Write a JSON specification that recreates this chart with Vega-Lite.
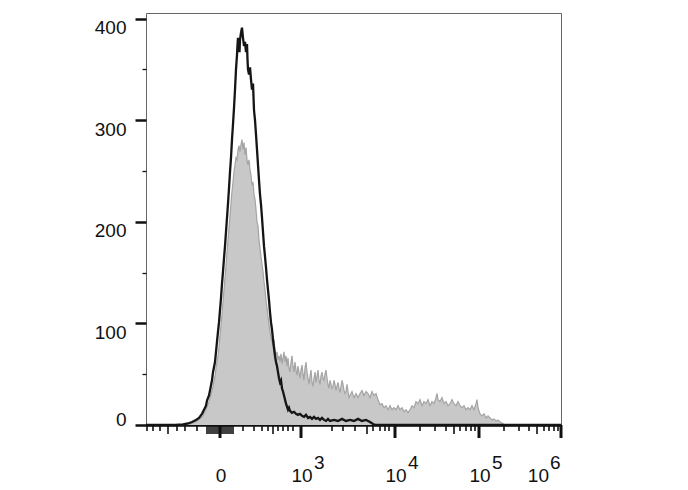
{
"$schema": "https://vega.github.io/schema/vega-lite/v6.json",
"width": 415, "height": 412,
"autosize": "none",
"padding": {"left": 146, "top": 13, "right": 127, "bottom": 65},
"background": "white",
"config": {"view": {"stroke": "#666666", "strokeWidth": 1}, "font": "Liberation Sans"},
"datasets": {
"gray": [
{"ch":0,"count":0},{"ch":68,"count":0},{"ch":84,"count":0.5},{"ch":94,"count":2},{"ch":102,"count":4},{"ch":108,"count":6},{"ch":114,"count":9},{"ch":118,"count":13},{"ch":122,"count":18},{"ch":126,"count":23},{"ch":130,"count":30},{"ch":134,"count":38},{"ch":138,"count":48},{"ch":140,"count":56},{"ch":144,"count":68},{"ch":146,"count":77},{"ch":148,"count":88},{"ch":150,"count":98},{"ch":152,"count":109},{"ch":154,"count":121},{"ch":156,"count":133},{"ch":158,"count":145},{"ch":160,"count":157},{"ch":162,"count":170},{"ch":164,"count":182},{"ch":166,"count":194},{"ch":168,"count":206},{"ch":170,"count":218},{"ch":172,"count":230},{"ch":174,"count":239},{"ch":176,"count":249},{"ch":178,"count":256},{"ch":180,"count":263},{"ch":182,"count":261},{"ch":184,"count":271},{"ch":186,"count":275},{"ch":188,"count":269},{"ch":190,"count":276},{"ch":192,"count":281},{"ch":194,"count":271},{"ch":196,"count":278},{"ch":198,"count":266},{"ch":200,"count":273},{"ch":202,"count":261},{"ch":204,"count":256},{"ch":206,"count":261},{"ch":208,"count":251},{"ch":210,"count":246},{"ch":212,"count":236},{"ch":214,"count":239},{"ch":216,"count":227},{"ch":218,"count":222},{"ch":220,"count":212},{"ch":222,"count":200},{"ch":224,"count":196},{"ch":226,"count":182},{"ch":228,"count":174},{"ch":230,"count":166},{"ch":232,"count":158},{"ch":234,"count":151},{"ch":236,"count":141},{"ch":238,"count":133},{"ch":240,"count":123},{"ch":242,"count":115},{"ch":244,"count":107},{"ch":246,"count":99},{"ch":248,"count":92},{"ch":250,"count":86},{"ch":252,"count":82},{"ch":254,"count":78},{"ch":256,"count":84},{"ch":258,"count":74},{"ch":260,"count":68},{"ch":262,"count":72},{"ch":264,"count":64},{"ch":266,"count":68},{"ch":268,"count":62},{"ch":270,"count":70},{"ch":272,"count":60},{"ch":274,"count":66},{"ch":276,"count":72},{"ch":278,"count":62},{"ch":280,"count":68},{"ch":282,"count":58},{"ch":284,"count":66},{"ch":286,"count":56},{"ch":288,"count":52},{"ch":290,"count":62},{"ch":292,"count":68},{"ch":294,"count":58},{"ch":296,"count":52},{"ch":298,"count":62},{"ch":300,"count":54},{"ch":302,"count":49},{"ch":304,"count":58},{"ch":306,"count":52},{"ch":308,"count":46},{"ch":310,"count":54},{"ch":312,"count":59},{"ch":314,"count":50},{"ch":316,"count":44},{"ch":318,"count":56},{"ch":320,"count":62},{"ch":322,"count":52},{"ch":324,"count":46},{"ch":326,"count":40},{"ch":328,"count":48},{"ch":330,"count":54},{"ch":332,"count":42},{"ch":334,"count":38},{"ch":336,"count":46},{"ch":338,"count":52},{"ch":340,"count":42},{"ch":342,"count":48},{"ch":344,"count":54},{"ch":346,"count":44},{"ch":348,"count":40},{"ch":350,"count":48},{"ch":352,"count":52},{"ch":354,"count":46},{"ch":356,"count":44},{"ch":358,"count":50},{"ch":360,"count":54},{"ch":362,"count":46},{"ch":364,"count":40},{"ch":366,"count":36},{"ch":368,"count":44},{"ch":370,"count":40},{"ch":372,"count":36},{"ch":374,"count":38},{"ch":376,"count":44},{"ch":378,"count":40},{"ch":380,"count":34},{"ch":382,"count":38},{"ch":384,"count":42},{"ch":386,"count":36},{"ch":388,"count":32},{"ch":390,"count":38},{"ch":392,"count":44},{"ch":394,"count":40},{"ch":396,"count":34},{"ch":398,"count":31},{"ch":400,"count":33},{"ch":402,"count":40},{"ch":404,"count":33},{"ch":406,"count":27},{"ch":408,"count":29},{"ch":412,"count":33},{"ch":416,"count":27},{"ch":420,"count":31},{"ch":424,"count":27},{"ch":428,"count":31},{"ch":432,"count":34},{"ch":436,"count":29},{"ch":440,"count":33},{"ch":444,"count":31},{"ch":448,"count":27},{"ch":452,"count":33},{"ch":456,"count":29},{"ch":460,"count":31},{"ch":464,"count":25},{"ch":468,"count":20},{"ch":472,"count":21},{"ch":476,"count":17},{"ch":480,"count":19},{"ch":484,"count":15},{"ch":488,"count":19},{"ch":492,"count":15},{"ch":496,"count":17},{"ch":500,"count":15},{"ch":504,"count":19},{"ch":508,"count":15},{"ch":512,"count":17},{"ch":516,"count":13},{"ch":520,"count":15},{"ch":524,"count":12},{"ch":528,"count":15},{"ch":532,"count":19},{"ch":536,"count":17},{"ch":540,"count":23},{"ch":544,"count":21},{"ch":548,"count":25},{"ch":552,"count":19},{"ch":556,"count":23},{"ch":560,"count":21},{"ch":564,"count":25},{"ch":568,"count":19},{"ch":572,"count":23},{"ch":576,"count":21},{"ch":580,"count":27},{"ch":582,"count":31},{"ch":584,"count":25},{"ch":588,"count":23},{"ch":592,"count":27},{"ch":596,"count":21},{"ch":600,"count":23},{"ch":604,"count":19},{"ch":608,"count":21},{"ch":612,"count":25},{"ch":616,"count":21},{"ch":620,"count":19},{"ch":624,"count":23},{"ch":628,"count":19},{"ch":632,"count":17},{"ch":636,"count":19},{"ch":640,"count":15},{"ch":644,"count":17},{"ch":648,"count":15},{"ch":652,"count":19},{"ch":656,"count":15},{"ch":660,"count":21},{"ch":662,"count":25},{"ch":664,"count":17},{"ch":668,"count":11},{"ch":672,"count":9},{"ch":676,"count":11},{"ch":680,"count":7},{"ch":684,"count":9},{"ch":688,"count":7},{"ch":692,"count":5},{"ch":696,"count":6},{"ch":700,"count":4},{"ch":704,"count":5},{"ch":708,"count":3},{"ch":712,"count":2},{"ch":716,"count":0.5},{"ch":720,"count":0},{"ch":830,"count":0}
],
"black": [
{"ch":0,"count":0},{"ch":28,"count":0},{"ch":58,"count":0},{"ch":74,"count":0.5},{"ch":84,"count":1.5},{"ch":92,"count":3},{"ch":100,"count":5},{"ch":106,"count":7},{"ch":112,"count":11},{"ch":116,"count":15},{"ch":120,"count":19},{"ch":122,"count":24},{"ch":126,"count":29},{"ch":128,"count":34},{"ch":132,"count":44},{"ch":134,"count":52},{"ch":138,"count":62},{"ch":140,"count":72},{"ch":142,"count":82},{"ch":144,"count":92},{"ch":146,"count":101},{"ch":148,"count":113},{"ch":150,"count":125},{"ch":152,"count":139},{"ch":154,"count":151},{"ch":156,"count":164},{"ch":158,"count":176},{"ch":160,"count":190},{"ch":162,"count":204},{"ch":164,"count":218},{"ch":166,"count":233},{"ch":168,"count":249},{"ch":170,"count":263},{"ch":172,"count":281},{"ch":174,"count":296},{"ch":176,"count":312},{"ch":178,"count":330},{"ch":180,"count":350},{"ch":182,"count":364},{"ch":183,"count":374},{"ch":184,"count":381},{"ch":186,"count":374},{"ch":187,"count":367},{"ch":188,"count":379},{"ch":190,"count":386},{"ch":192,"count":391},{"ch":194,"count":381},{"ch":196,"count":373},{"ch":198,"count":377},{"ch":200,"count":367},{"ch":202,"count":375},{"ch":203,"count":360},{"ch":204,"count":350},{"ch":206,"count":345},{"ch":208,"count":352},{"ch":210,"count":340},{"ch":212,"count":330},{"ch":214,"count":336},{"ch":216,"count":310},{"ch":218,"count":300},{"ch":220,"count":286},{"ch":222,"count":271},{"ch":224,"count":256},{"ch":226,"count":241},{"ch":228,"count":227},{"ch":230,"count":217},{"ch":232,"count":204},{"ch":234,"count":190},{"ch":236,"count":176},{"ch":238,"count":166},{"ch":240,"count":155},{"ch":242,"count":143},{"ch":244,"count":133},{"ch":246,"count":123},{"ch":248,"count":111},{"ch":250,"count":101},{"ch":252,"count":94},{"ch":254,"count":84},{"ch":256,"count":76},{"ch":258,"count":68},{"ch":260,"count":62},{"ch":262,"count":58},{"ch":264,"count":52},{"ch":266,"count":46},{"ch":268,"count":42},{"ch":270,"count":44},{"ch":272,"count":36},{"ch":274,"count":33},{"ch":276,"count":29},{"ch":278,"count":25},{"ch":280,"count":21},{"ch":282,"count":18},{"ch":284,"count":15},{"ch":286,"count":17},{"ch":288,"count":14},{"ch":292,"count":12},{"ch":296,"count":13},{"ch":300,"count":11},{"ch":304,"count":10},{"ch":308,"count":11},{"ch":312,"count":9},{"ch":316,"count":8},{"ch":320,"count":10},{"ch":324,"count":7},{"ch":328,"count":8},{"ch":332,"count":6},{"ch":336,"count":8},{"ch":340,"count":6},{"ch":344,"count":7},{"ch":348,"count":5},{"ch":352,"count":7},{"ch":356,"count":5},{"ch":360,"count":4},{"ch":364,"count":6},{"ch":368,"count":4},{"ch":376,"count":5},{"ch":384,"count":4},{"ch":392,"count":6},{"ch":400,"count":4},{"ch":408,"count":5},{"ch":416,"count":4},{"ch":424,"count":6},{"ch":432,"count":4},{"ch":440,"count":5},{"ch":448,"count":3},{"ch":454,"count":1},{"ch":460,"count":0},{"ch":830,"count":0}
],
"ticks": [
{"v":2,"k":"minor"},{"v":14,"k":"minor"},{"v":28,"k":"minor"},{"v":44,"k":"mid"},{"v":62,"k":"minor"},{"v":78,"k":"minor"},{"v":102,"k":"minor"},
{"v":122,"k":"mid"},{"v":126,"k":"mid"},{"v":130,"k":"mid"},{"v":134,"k":"mid"},{"v":138,"k":"mid"},{"v":142,"k":"mid"},{"v":146,"k":"mid"},{"v":148,"k":"major"},{"v":150,"k":"mid"},{"v":154,"k":"mid"},{"v":158,"k":"mid"},{"v":162,"k":"mid"},{"v":166,"k":"mid"},{"v":170,"k":"mid"},{"v":174,"k":"mid"},
{"v":194,"k":"minor"},{"v":216,"k":"minor"},{"v":232,"k":"minor"},{"v":244,"k":"minor"},{"v":254,"k":"mid"},{"v":264,"k":"minor"},{"v":274,"k":"minor"},{"v":284,"k":"minor"},{"v":294,"k":"minor"},{"v":310,"k":"major"},
{"v":372,"k":"minor"},{"v":394,"k":"minor"},{"v":418,"k":"minor"},{"v":442,"k":"mid"},{"v":454,"k":"minor"},{"v":468,"k":"minor"},{"v":478,"k":"minor"},{"v":486,"k":"minor"},{"v":498,"k":"major"},
{"v":548,"k":"minor"},{"v":578,"k":"minor"},{"v":600,"k":"minor"},{"v":616,"k":"mid"},{"v":628,"k":"minor"},{"v":640,"k":"minor"},{"v":650,"k":"minor"},{"v":658,"k":"minor"},{"v":666,"k":"major"},
{"v":716,"k":"minor"},{"v":746,"k":"minor"},{"v":766,"k":"minor"},{"v":782,"k":"mid"},{"v":796,"k":"minor"},{"v":806,"k":"minor"},{"v":816,"k":"minor"},{"v":824,"k":"minor"},{"v":830,"k":"major"}
],
"labels": [
{"v":148,"t":"0"},{"v":310,"t":"10"},{"v":498,"t":"10"},{"v":666,"t":"10"},{"v":830,"t":"10"}
],
"exps": [
{"v":310,"e":"3"},{"v":498,"e":"4"},{"v":666,"e":"5"},{"v":830,"e":"6"}
]
},
"layer": [
{
"data": {"name": "gray"},
"mark": {"type": "area", "color": "#c8c8c8", "opacity": 1, "line": {"color": "#a4a4a4", "strokeWidth": 1.2}},
"encoding": {
"x": {"field": "ch", "type": "quantitative",
 "scale": {"domain": [0, 830], "nice": false, "zero": false},
 "axis": {"title": null, "grid": false, "ticks": false, "labels": false, "domainColor": "#111111", "domainWidth": 2.5}},
"y": {"field": "count", "type": "quantitative",
 "scale": {"domain": [0, 405.5], "nice": false},
 "axis": {"title": null, "grid": false, "domain": false,
  "values": [0,25,50,75,100,125,150,175,200,225,250,275,300,325,350,375,400],
  "tickColor": "#111111",
  "tickSize": {"condition": {"test": "datum.value % 100 == 0", "value": 11}, "value": 4},
  "tickWidth": {"condition": {"test": "datum.value % 100 == 0", "value": 2.5}, "value": 1.3},
  "labelExpr": "datum.value % 100 == 0 ? format(datum.value, 'd') : ''",
  "labelFontSize": 19, "labelColor": "#111111", "labelPadding": 9,
  "labelBaseline": {"condition": {"test": "datum.value == 0", "value": "alphabetic"}, "value": "top"},
  "labelOverlap": false, "labelBound": false, "labelFlush": false}}
}
},
{
"data": {"name": "black"},
"mark": {"type": "line", "color": "#151515", "strokeWidth": 2.3},
"encoding": {
"x": {"field": "ch", "type": "quantitative"},
"y": {"field": "count", "type": "quantitative"}
}
},
{
"data": {"name": "ticks"},
"transform": [{"filter": "datum.k == 'minor'"}],
"mark": {"type": "rule", "color": "#111111", "strokeWidth": 1.6, "y2Offset": 6},
"encoding": {
"x": {"field": "v", "type": "quantitative"},
"y": {"datum": 0, "type": "quantitative"},
"y2": {"datum": 0}
}
},
{
"data": {"name": "ticks"},
"transform": [{"filter": "datum.k == 'mid'"}],
"mark": {"type": "rule", "color": "#111111", "strokeWidth": 1.6, "y2Offset": 9},
"encoding": {
"x": {"field": "v", "type": "quantitative"},
"y": {"datum": 0, "type": "quantitative"},
"y2": {"datum": 0}
}
},
{
"data": {"name": "ticks"},
"transform": [{"filter": "datum.k == 'major'"}],
"mark": {"type": "rule", "color": "#111111", "strokeWidth": 3, "y2Offset": 13},
"encoding": {
"x": {"field": "v", "type": "quantitative"},
"y": {"datum": 0, "type": "quantitative"},
"y2": {"datum": 0}
}
},
{
"data": {"name": "labels"},
"transform": [{"filter": "datum.v < 800"}],
"mark": {"type": "text", "align": "center", "baseline": "alphabetic", "dx": 1, "dy": 57, "fontSize": 19, "color": "#111111"},
"encoding": {
"x": {"field": "v", "type": "quantitative"},
"y": {"datum": 0, "type": "quantitative"},
"text": {"field": "t"}
}
},
{
"data": {"name": "labels"},
"transform": [{"filter": "datum.v > 800"}],
"mark": {"type": "text", "align": "right", "baseline": "alphabetic", "dx": -12, "dy": 57, "fontSize": 19, "color": "#111111"},
"encoding": {
"x": {"field": "v", "type": "quantitative"},
"y": {"datum": 0, "type": "quantitative"},
"text": {"field": "t"}
}
},
{
"data": {"name": "exps"},
"transform": [{"filter": "datum.v < 800"}],
"mark": {"type": "text", "align": "left", "baseline": "alphabetic", "dx": 13, "dy": 44, "fontSize": 19, "color": "#111111"},
"encoding": {
"x": {"field": "v", "type": "quantitative"},
"y": {"datum": 0, "type": "quantitative"},
"text": {"field": "e"}
}
},
{
"data": {"name": "exps"},
"transform": [{"filter": "datum.v > 800"}],
"mark": {"type": "text", "align": "left", "baseline": "alphabetic", "dx": -11, "dy": 44, "fontSize": 19, "color": "#111111"},
"encoding": {
"x": {"field": "v", "type": "quantitative"},
"y": {"datum": 0, "type": "quantitative"},
"text": {"field": "e"}
}
}
]
}
